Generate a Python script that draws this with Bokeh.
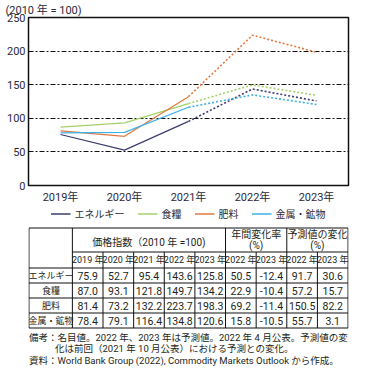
from bokeh.plotting import figure
from bokeh.models import Legend, LegendItem, FixedTicker, Range1d, FactorRange
from bokeh.layouts import column
from bokeh.embed import file_html
from bokeh.resources import INLINE
from bokeh.core.properties import value

# ---------------- data ----------------
years = ["2019年", "2020年", "2021年", "2022年", "2023年"]
table_years = ["2019 年", "2020 年", "2021 年", "2022 年", "2023 年"]
change_years = ["2022 年", "2023 年"]
series_names = ["エネルギー", "食糧", "肥料", "金属・鉱物"]
energy = [75.9, 52.7, 95.4, 143.6, 125.8]
food = [87.0, 93.1, 121.8, 149.7, 134.2]
fertilizer = [81.4, 73.2, 132.2, 223.7, 198.3]
metals = [78.4, 79.1, 116.4, 134.8, 120.6]
annual_change_2022 = [50.5, 22.9, 69.2, 15.8]
annual_change_2023 = [-12.4, -10.4, -11.4, -10.5]
forecast_change_2022 = [91.7, 57.2, 150.5, 55.7]
forecast_change_2023 = [30.6, 15.7, 82.2, 3.1]
y_ticks = [0, 50, 100, 150, 200, 250]
unit_label = "(2010 年 = 100)"
header_index = "価格指数（2010 年 =100)"
header_annual = ["年間変化率", "(%)"]
header_forecast = ["予測値の変化", "(%)"]
note_lines = [
    "備考：名目値。2022 年、2023 年は予測値。2022 年 4 月公表。予測値の変",
    "化は前回（2021 年 10 月公表）における予測との変化。",
    "資料：World Bank Group (2022), Commodity Markets Outlook から作成。",
]

# ---------------- styles ----------------
FONT = "Roboto, Noto Sans CJK JP"
TXT = "#2b2b3b"
TBL = "#231f20"
colors = ["#3c3c6e", "#a5d16a", "#e3793f", "#3cb2e6"]
series = [energy, food, fertilizer, metals]

# ---------------- chart ----------------
p = figure(width=350, height=206, x_range=FactorRange(*years), y_range=Range1d(0, 250),
           output_backend="svg", toolbar_location=None,
           min_border_left=28, min_border_right=2, min_border_top=0, min_border_bottom=0)
p.title.text = unit_label
p.title.align = "left"
p.title.offset = -23
p.title.standoff = 2
p.title.text_font = FONT
p.title.text_font_size = "11px"
p.title.text_font_style = "normal"
p.title.text_color = TXT

p.outline_line_color = "#111111"
p.outline_line_width = 1.5
p.xgrid.grid_line_color = None
p.ygrid.grid_line_color = "#111111"
p.ygrid.grid_line_dash = "5 2 2 2"
p.ygrid.grid_line_width = 1
p.yaxis.ticker = FixedTicker(ticks=y_ticks)
for ax in (p.xaxis, p.yaxis):
    ax.axis_label = None
    ax.axis_label_standoff = 0
    ax.axis_line_color = None
    ax.major_tick_line_color = None
    ax.minor_tick_line_color = None
    ax.major_tick_out = 0
    ax.major_tick_in = 0
    ax.minor_tick_out = 0
    ax.minor_tick_in = 0
    ax.major_label_text_font = FONT
    ax.major_label_text_font_size = "11px"
    ax.major_label_text_color = TXT
p.yaxis.major_label_standoff = 3
p.xaxis.major_label_standoff = 5

for name, vals, c in zip(series_names, series, colors):
    p.line(years[:3], vals[:3], line_color=c, line_width=1.2)
    p.line(years[2:], vals[2:], line_color=c, line_width=1.6, line_dash="2 2")

# ---------------- legend strip (series drawn out of view, legend only) ----------------
lg = figure(width=350, height=14, x_range=FactorRange(*years), y_range=Range1d(-2, -1),
            output_backend="svg", toolbar_location=None,
            x_axis_location=None, y_axis_location=None,
            min_border_left=0, min_border_right=0, min_border_top=0, min_border_bottom=0)
lg.grid.visible = False
lg.outline_line_color = None
items = []
for name, vals, c in zip(series_names, series, colors):
    r = lg.line(years[:3], vals[:3], line_color=c, line_width=1.3)
    items.append(LegendItem(label=name, renderers=[r]))
leg = Legend(items=items, orientation="horizontal", location="center",
             label_text_font=FONT, label_text_font_size="10px", label_text_color=TXT,
             glyph_width=20, glyph_height=10, label_height=10, label_standoff=4, spacing=13,
             border_line_color=None, background_fill_alpha=0, padding=0, margin=0)
lg.add_layout(leg, "center")

# ---------------- table ----------------
T_H = 146
t = figure(width=350, height=T_H, x_range=Range1d(0, 350), y_range=Range1d(T_H, 0),
           output_backend="svg", toolbar_location=None,
           x_axis_location=None, y_axis_location=None,
           min_border_left=0, min_border_right=0, min_border_top=0, min_border_bottom=0)
t.grid.visible = False
t.outline_line_color = None

label_w = 48
num_w = 33.5
edges = [0.5, label_w] + [label_w + num_w * i for i in range(1, 10)]
top = 7.5
h1 = 24
h2 = 16
rh = 15
row_tops = [top, top + h1, top + h1 + h2] + [top + h1 + h2 + rh * i for i in range(1, 5)]
bottom = row_tops[-1]

x0s, y0s, x1s, y1s = [], [], [], []
def seg(a, b, c, d):
    x0s.append(a); y0s.append(b); x1s.append(c); y1s.append(d)

seg(edges[0], top, edges[-1], top)
seg(edges[1], row_tops[1], edges[-1], row_tops[1])
for y in row_tops[2:]:
    seg(edges[0], y, edges[-1], y)
for i, x in enumerate(edges):
    if i in (0, 1, 6, 8, 10):
        seg(x, top, x, bottom)
    else:
        seg(x, row_tops[1], x, bottom)
t.segment(x0=x0s, y0=y0s, x1=x1s, y1=y1s, line_color="#111111", line_width=1)

tx, ty, tt = [], [], []
def put(x, y, s):
    tx.append(x); ty.append(y); tt.append(s)

put((edges[1] + edges[6]) / 2, top + 14, header_index)
put((edges[6] + edges[8]) / 2, top + 6.5, header_annual[0])
put((edges[6] + edges[8]) / 2, top + 17, header_annual[1])
put((edges[8] + edges[10]) / 2, top + 6.5, header_forecast[0])
put((edges[8] + edges[10]) / 2, top + 17, header_forecast[1])
t.text(x=tx, y=ty, text=tt, text_font=value(FONT), text_font_size="10px",
       text_color=TBL, text_align="center", text_baseline="middle")

yrow2 = row_tops[1] + h2 / 2
cols_hdr = table_years + change_years + change_years
hx = [(edges[i + 1] + edges[i + 2]) / 2 for i in range(len(cols_hdr))]
t.text(x=hx, y=[yrow2] * len(cols_hdr), text=cols_hdr, text_font=value(FONT),
       text_font_size="9px", text_color=TBL, text_align="center", text_baseline="middle")

nx, ny, nt = [], [], []
lx, ly, lt = [], [], []
for r, name in enumerate(series_names):
    yc = row_tops[2 + r] + rh / 2
    lx.append(label_w / 2 + 0.5); ly.append(yc); lt.append(name)
    vals = series[r] + [annual_change_2022[r], annual_change_2023[r],
                        forecast_change_2022[r], forecast_change_2023[r]]
    for i, v in enumerate(vals):
        nx.append((edges[i + 1] + edges[i + 2]) / 2); ny.append(yc); nt.append(f"{v:.1f}")
t.text(x=lx, y=ly, text=lt, text_font=value(FONT), text_font_size="9px",
       text_color=TBL, text_align="center", text_baseline="middle")
t.text(x=nx, y=ny, text=nt, text_font=value(FONT), text_font_size="10.5px",
       text_color=TBL, text_align="center", text_baseline="middle")

t.text(x=[0.5, 29, 0.5], y=[bottom + 9, bottom + 20.5, bottom + 32], text=note_lines,
       text_font=value(FONT), text_font_size="9.5px", text_color=TBL,
       text_align="left", text_baseline="middle")

layout = column(p, lg, t, spacing=0)
open("out.html", "w").write(file_html(layout, INLINE))
